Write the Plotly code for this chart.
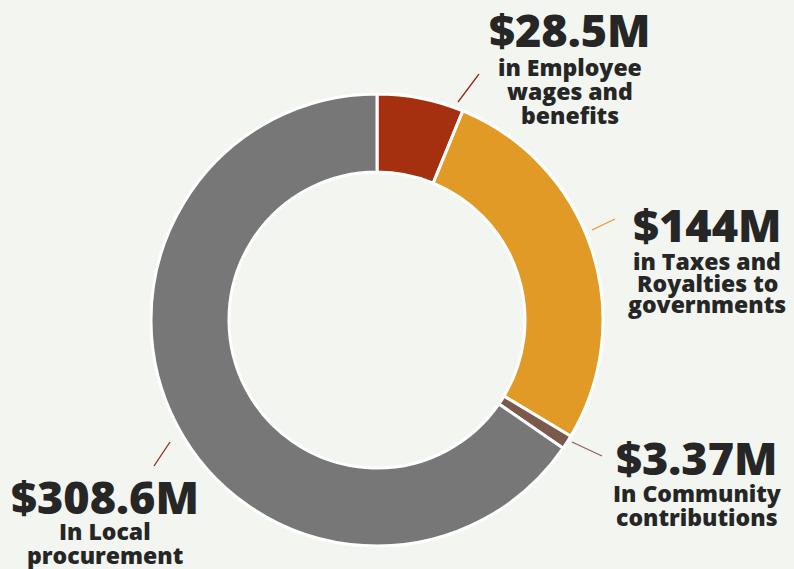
import plotly.graph_objects as go

# ---- data ----
categories = ["Employee wages and benefits", "Taxes and Royalties to governments",
              "Community contributions", "Local procurement"]
amount_labels = ["$28.5M", "$144M", "$3.37M", "$308.6M"]
# slice shares (percent of the ring)
share_pct = [6.2, 27.4, 1.0, 65.4]
subtitle_lines = [
    ["in Employee", "wages and", "benefits"],
    ["in Taxes and", "Royalties to", "governments"],
    ["In Community", "contributions"],
    ["In Local", "procurement"],
]
colors = ["#A5300F", "#E29A27", "#7B5A4C", "#777777"]
leader_colors = ["#8E2B10", "#E29A27", "#8A6656", "#8E2B10"]

# ---- layout constants (pixels) ----
W, H = 794, 569
BG = "#F3F5F0"
TEXT = "#262626"
FONT = "Open Sans"
cx, cy, r = 377, 320, 226

# label anchor positions: (x center, big number y, first subtitle y, line step)
label_pos = [
    (570, 30, 67, 24),
    (707, 224, 261, 21.5),
    (697, 457, 493, 23.5),
    (105, 496, 531, 23.5),
]
leader_px = [
    ((458, 102), (479, 74)),
    ((592, 230), (615, 219)),
    ((572, 442), (602, 456)),
    ((154, 466), (170, 442)),
]

def px(x):
    return x / W

def py(y):
    return 1 - y / H

fig = go.Figure(go.Pie(
    labels=categories,
    values=share_pct,
    hole=0.655,
    sort=False,
    direction="clockwise",
    rotation=0,
    marker=dict(colors=colors, line=dict(color="white", width=3)),
    textinfo="none",
    hoverinfo="label+percent",
    showlegend=False,
    domain=dict(x=[px(cx - r), px(cx + r)], y=[py(cy + r), py(cy - r)]),
))

annotations = []
for amt, subs, (lx, by, sy, step) in zip(amount_labels, subtitle_lines, label_pos):
    annotations.append(dict(
        text=amt, x=px(lx), y=py(by), xref="paper", yref="paper",
        xanchor="center", yanchor="middle", showarrow=False,
        font=dict(family=FONT, size=45, color=TEXT, weight=800),
    ))
    for i, line in enumerate(subs):
        annotations.append(dict(
            text=line, x=px(lx), y=py(sy + i * step), xref="paper", yref="paper",
            xanchor="center", yanchor="middle", showarrow=False,
            font=dict(family=FONT, size=23, color=TEXT, weight=800),
        ))

shapes = []
for ((x0, y0), (x1, y1)), c in zip(leader_px, leader_colors):
    shapes.append(dict(type="line", xref="paper", yref="paper",
                       x0=px(x0), y0=py(y0), x1=px(x1), y1=py(y1),
                       line=dict(color=c, width=1.3)))

fig.update_layout(
    width=W, height=H,
    margin=dict(l=0, r=0, t=0, b=0),
    paper_bgcolor=BG, plot_bgcolor=BG,
    annotations=annotations,
    shapes=shapes,
)

fig.write_html(
    "out.html",
    config={"displayModeBar": False},
    post_script=(
        "document.body.style.margin='0';"
        "document.body.style.padding='0';"
        "document.body.style.background='" + BG + "';"
    ),
)
